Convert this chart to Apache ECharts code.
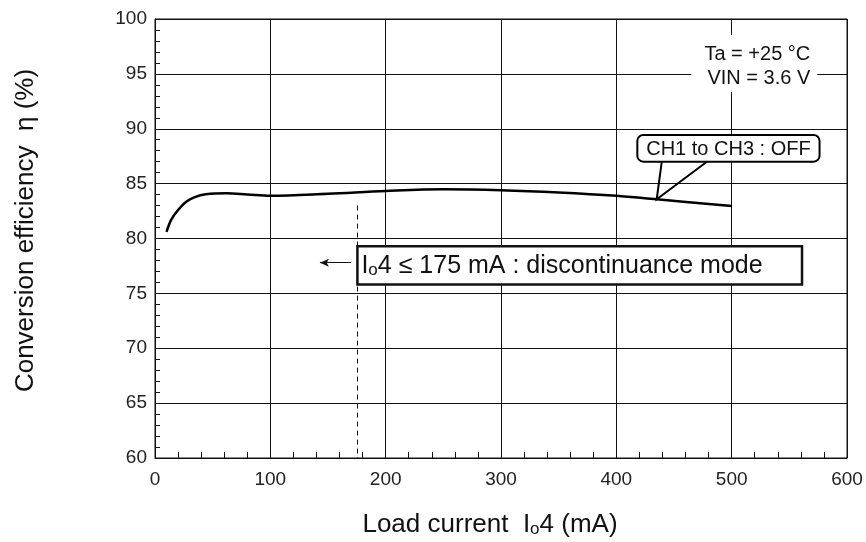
<!DOCTYPE html>
<html>
<head>
<meta charset="utf-8">
<script src="https://cdn.jsdelivr.net/npm/echarts@6/dist/echarts.min.js"></script>
<style>
  html, body { margin: 0; padding: 0; background: #fff; }
  #main { width: 866px; height: 542px; }
</style>
</head>
<body>
<div id="main"></div>
<script>
// load current (mA) and conversion efficiency (%)
const loadCurrent = [10, 14, 20, 27, 34, 44, 62, 80, 100, 150, 200, 250, 300, 350, 400, 435, 500]
const efficiency = [80.6, 81.7, 82.6, 83.35, 83.75, 84.03, 84.12, 84.02, 83.9, 84.08, 84.33, 84.48, 84.4, 84.2, 83.9, 83.57, 82.96]
const xTicks = [0, 100, 200, 300, 400, 500, 600]
const yTicks = [60, 65, 70, 75, 80, 85, 90, 95, 100]
const modeLimit = 175 // mA, discontinuance mode boundary

const font = '"Liberation Sans", Arial, sans-serif'
const ink = '#111'

var myChart = echarts.init(document.getElementById('main'))

var option = {
  animation: false,
  backgroundColor: '#fff',
  grid: {
    left: 155,
    right: 19,
    top: 19,
    bottom: 84,
    outerBoundsMode: 'none',
    containLabel: false,
    show: true,
    borderColor: ink,
    borderWidth: 1
  },
  xAxis: {
    type: 'value',
    min: xTicks[0],
    max: xTicks[xTicks.length - 1],
    interval: 100,
    name: 'Load current  I{sub|o}4 (mA)',
    nameLocation: 'middle',
    nameGap: 54,
    nameTextStyle: {
      fontFamily: font,
      fontSize: 26,
      color: ink,
      padding: [0, 22, 0, 0],
      rich: {
        sub: { fontFamily: font, fontSize: 17, color: ink, verticalAlign: 'bottom', padding: [6, 0, 0, 0] }
      }
    },
    axisLine: { lineStyle: { color: ink, width: 1 } },
    axisTick: { show: false },
    minorTick: { show: true, splitNumber: 5, length: -6, lineStyle: { color: ink, width: 1 } },
    axisLabel: { fontFamily: font, fontSize: 19, color: '#222', margin: 12 },
    splitLine: { show: true, lineStyle: { color: ink, width: 1 } }
  },
  yAxis: {
    type: 'value',
    min: yTicks[0],
    max: yTicks[yTicks.length - 1],
    interval: 5,
    name: 'Conversion efficiency  η (%)',
    nameLocation: 'middle',
    nameGap: 116,
    nameTextStyle: { fontFamily: font, fontSize: 26, color: ink, padding: [0, 0, 0, 16] },
    axisLine: { lineStyle: { color: ink, width: 1 } },
    axisTick: { show: false },
    minorTick: { show: true, splitNumber: 5, length: -5, lineStyle: { color: ink, width: 1 } },
    axisLabel: { fontFamily: font, fontSize: 19, color: '#222', margin: 8 },
    splitLine: { show: true, lineStyle: { color: ink, width: 1 } }
  },
  series: [{
    type: 'line',
    data: loadCurrent.map((x, i) => [x, efficiency[i]]),
    symbol: 'none',
    smooth: 0.35,
    lineStyle: { color: '#000', width: 2.5 },
    z: 5,
    markLine: {
      silent: true,
      symbol: 'none',
      label: { show: false },
      data: [
        [
          { coord: [modeLimit, 83.0], lineStyle: { color: ink, type: [5, 4], width: 1 } },
          { coord: [modeLimit, 60] }
        ],
        [
          { coord: [170, 77.8], symbol: 'none', lineStyle: { color: ink, type: 'solid', width: 1 } },
          { coord: [143, 77.8], symbol: 'arrow', symbolSize: [6, 9] }
        ]
      ]
    }
  }]
}

myChart.setOption(option)

// annotations placed from data coordinates
function px(x, y) {
  return myChart.convertToPixel({ gridIndex: 0 }, [x, y])
}

const boxA = px(175.5, 79.3)
const boxB = px(561, 75.8)
const calA = px(418.2, 89.43)
const calB = px(576.2, 87.0)
const tip = px(435, 83.57)
const baseL = px(439.4, 87.0)
const baseR = px(478.5, 87.0)
const condPos = px(569, 95)

myChart.setOption({
  graphic: [
    {
      type: 'rect',
      shape: { x: condPos[0] - 120, y: condPos[1] - 39, width: 126, height: 57 },
      style: { fill: '#fff' },
      z: 20
    },
    {
      type: 'text',
      x: condPos[0] - 1,
      y: condPos[1] - 31,
      style: {
        text: 'Ta = +25 °C\nVIN = 3.6 V',
        font: '20px ' + font,
        fill: ink,
        align: 'right',
        verticalAlign: 'top',
        lineHeight: 24
      },
      z: 21
    },
    {
      type: 'rect',
      shape: { x: boxA[0], y: boxA[1], width: boxB[0] - boxA[0], height: boxB[1] - boxA[1] },
      style: { fill: '#fff', stroke: ink, lineWidth: 2.5 },
      z: 20
    },
    {
      type: 'text',
      x: boxA[0] + 4,
      y: (boxA[1] + boxB[1]) / 2 + 1,
      style: {
        text: 'I{sub|o}4 ≤ 175 mA : discontinuance mode',
        font: '25px ' + font,
        fill: ink,
        verticalAlign: 'middle',
        rich: {
          sub: { font: '17px ' + font, fill: ink, verticalAlign: 'bottom', padding: [7, 0, 0, 0] }
        }
      },
      z: 21
    },
    {
      type: 'polyline',
      shape: { points: [baseL, tip, baseR] },
      style: { stroke: '#000', lineWidth: 2, fill: 'none' },
      z: 20
    },
    {
      type: 'rect',
      shape: { x: calA[0], y: calA[1], width: calB[0] - calA[0], height: calB[1] - calA[1], r: 6 },
      style: { fill: '#fff', stroke: '#000', lineWidth: 2 },
      z: 21
    },
    {
      type: 'text',
      x: (calA[0] + calB[0]) / 2,
      y: (calA[1] + calB[1]) / 2 + 1,
      style: {
        text: 'CH1 to CH3 : OFF',
        font: '20px ' + font,
        fill: ink,
        align: 'center',
        verticalAlign: 'middle'
      },
      z: 22
    }
  ]
})

window.addEventListener('resize', () => {
  myChart.resize()
}, false)
</script>
</body>
</html>
